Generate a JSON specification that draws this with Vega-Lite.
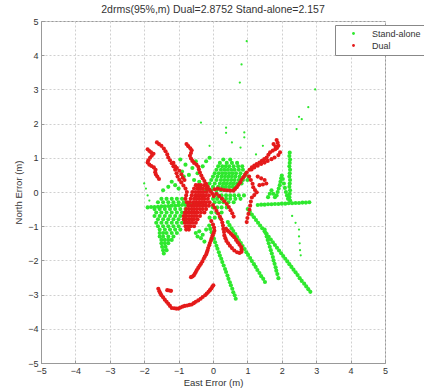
{
"$schema":"https://vega.github.io/schema/vega-lite/v6.json",
"width":344,"height":342,
"autosize":{"type":"none"},
"padding":{"left":41,"top":21,"right":39,"bottom":28},
"background":"white",
"config":{"view":{"stroke":"#999","strokeWidth":1},"font":"Liberation Sans"},
"title":{"text":"2drms(95%,m) Dual=2.8752 Stand-alone=2.157","fontSize":10.5,"fontWeight":"normal","color":"#333","offset":2,"anchor":"middle"},
"datasets":{
"sparse":[
{"x":0.98,"y":4.41,"s":"S"},{"x":0.83,"y":3.73,"s":"S"},{"x":0.78,"y":3.2,"s":"S"},{"x":2.97,"y":3.0,"s":"S"},{"x":2.77,"y":2.48,"s":"S"},{"x":2.58,"y":2.13,"s":"S"},{"x":2.43,"y":1.84,"s":"S"},{"x":2.5,"y":2.2,"s":"S"},{"x":0.38,"y":1.88,"s":"S"},{"x":0.38,"y":1.73,"s":"S"},{"x":0.91,"y":1.74,"s":"S"},{"x":0.91,"y":1.6,"s":"S"},{"x":-0.35,"y":2.03,"s":"S"},{"x":0.8,"y":1.3,"s":"S"},{"x":1.25,"y":1.1,"s":"S"},{"x":2.5,"y":-1.1,"s":"S"},{"x":2.5,"y":-1.3,"s":"S"},{"x":2.52,"y":-1.5,"s":"S"},{"x":2.53,"y":-1.7,"s":"S"},{"x":2.55,"y":-1.85,"s":"S"},{"x":-2.0,"y":0.25,"s":"S"},{"x":-1.95,"y":0.1,"s":"S"},{"x":-1.9,"y":-0.1,"s":"S"},{"x":-1.85,"y":-0.25,"s":"S"},{"x":1.45,"y":1.35,"s":"S"},{"x":0.55,"y":1.45,"s":"S"},{"x":-0.1,"y":1.35,"s":"S"},{"x":2.3,"y":-0.7,"s":"S"},{"x":2.4,"y":-0.9,"s":"S"}
],
"main":[
{"x":0.3,"y":0.95,"s":"S"},{"x":0.5,"y":0.95,"s":"S"},
{"x":0.2,"y":0.85,"s":"S"},{"x":0.4,"y":0.85,"s":"S"},{"x":0.55,"y":0.85,"s":"S"},{"x":0.7,"y":0.85,"s":"S"},
{"x":0.15,"y":0.75,"s":"S"},{"x":0.27,"y":0.75,"s":"S"},{"x":0.37,"y":0.75,"s":"S"},{"x":0.47,"y":0.75,"s":"S"},{"x":0.6,"y":0.75,"s":"S"},{"x":0.73,"y":0.75,"s":"S"},{"x":0.85,"y":0.75,"s":"S"},
{"x":0.1,"y":0.65,"s":"S"},{"x":0.23,"y":0.65,"s":"S"},{"x":0.33,"y":0.65,"s":"S"},{"x":0.43,"y":0.65,"s":"S"},{"x":0.53,"y":0.65,"s":"S"},{"x":0.63,"y":0.65,"s":"S"},{"x":0.75,"y":0.65,"s":"S"},{"x":0.87,"y":0.65,"s":"S"},
{"x":0.05,"y":0.55,"s":"S"},{"x":0.17,"y":0.55,"s":"S"},{"x":0.27,"y":0.55,"s":"S"},{"x":0.37,"y":0.55,"s":"S"},{"x":0.47,"y":0.55,"s":"S"},{"x":0.57,"y":0.55,"s":"S"},{"x":0.67,"y":0.55,"s":"S"},{"x":0.8,"y":0.55,"s":"S"},{"x":0.95,"y":0.55,"s":"S"},
{"x":0.0,"y":0.45,"s":"S"},{"x":0.13,"y":0.45,"s":"S"},{"x":0.25,"y":0.45,"s":"S"},{"x":0.35,"y":0.45,"s":"S"},{"x":0.45,"y":0.45,"s":"S"},{"x":0.55,"y":0.45,"s":"S"},{"x":0.65,"y":0.45,"s":"S"},{"x":0.77,"y":0.45,"s":"S"},{"x":0.9,"y":0.45,"s":"S"},{"x":1.03,"y":0.45,"s":"S"},
{"x":-0.05,"y":0.35,"s":"S"},{"x":0.1,"y":0.35,"s":"S"},{"x":0.23,"y":0.35,"s":"S"},{"x":0.33,"y":0.35,"s":"S"},{"x":0.43,"y":0.35,"s":"S"},{"x":0.53,"y":0.35,"s":"S"},{"x":0.63,"y":0.35,"s":"S"},{"x":0.75,"y":0.35,"s":"S"},{"x":0.87,"y":0.35,"s":"S"},{"x":1.0,"y":0.35,"s":"S"},
{"x":-0.1,"y":0.25,"s":"S"},{"x":0.05,"y":0.25,"s":"S"},{"x":0.2,"y":0.25,"s":"S"},{"x":0.3,"y":0.25,"s":"S"},{"x":0.4,"y":0.25,"s":"S"},{"x":0.5,"y":0.25,"s":"S"},{"x":0.6,"y":0.25,"s":"S"},{"x":0.7,"y":0.25,"s":"S"},{"x":0.83,"y":0.25,"s":"S"},
{"x":-0.15,"y":0.15,"s":"S"},{"x":0.0,"y":0.15,"s":"S"},{"x":0.15,"y":0.15,"s":"S"},{"x":0.27,"y":0.15,"s":"S"},{"x":0.37,"y":0.15,"s":"S"},{"x":0.47,"y":0.15,"s":"S"},{"x":0.57,"y":0.15,"s":"S"},{"x":0.67,"y":0.15,"s":"S"},
{"x":-0.2,"y":0.05,"s":"S"},{"x":-0.05,"y":0.05,"s":"S"},{"x":0.1,"y":0.05,"s":"S"},{"x":0.23,"y":0.05,"s":"S"},{"x":0.35,"y":0.05,"s":"S"},{"x":0.47,"y":0.05,"s":"S"},{"x":0.6,"y":0.05,"s":"S"},
{"x":-0.9,"y":0.6,"s":"S"},{"x":-0.85,"y":0.45,"s":"S"},{"x":-0.7,"y":0.5,"s":"S"},{"x":-0.8,"y":0.8,"s":"S"},{"x":-0.5,"y":0.9,"s":"S"},{"x":-0.45,"y":0.55,"s":"S"},{"x":-0.3,"y":0.75,"s":"S"},{"x":-0.2,"y":0.9,"s":"S"},{"x":-0.1,"y":1.0,"s":"S"},{"x":-1.2,"y":0.3,"s":"S"},{"x":-1.1,"y":0.2,"s":"S"},{"x":-1.0,"y":0.1,"s":"S"},{"x":-1.3,"y":0.15,"s":"S"},{"x":-1.45,"y":0.05,"s":"S"},{"x":-0.95,"y":0.95,"s":"S"},{"x":-0.6,"y":0.7,"s":"S"},{"x":-0.55,"y":0.35,"s":"S"},{"x":-0.4,"y":0.3,"s":"S"},
{"x":0.05,"y":-0.1,"s":"S"},{"x":0.15,"y":-0.1,"s":"S"},{"x":0.25,"y":-0.1,"s":"S"},{"x":0.38,"y":-0.1,"s":"S"},{"x":0.5,"y":-0.1,"s":"S"},{"x":0.62,"y":-0.1,"s":"S"},{"x":0.75,"y":-0.1,"s":"S"},{"x":0.9,"y":-0.1,"s":"S"},
{"x":0.0,"y":-0.2,"s":"S"},{"x":0.12,"y":-0.2,"s":"S"},{"x":0.25,"y":-0.2,"s":"S"},{"x":0.38,"y":-0.2,"s":"S"},{"x":0.5,"y":-0.2,"s":"S"},{"x":0.65,"y":-0.2,"s":"S"},{"x":0.8,"y":-0.2,"s":"S"},
{"x":0.05,"y":-0.3,"s":"S"},{"x":0.18,"y":-0.3,"s":"S"},{"x":0.3,"y":-0.3,"s":"S"},{"x":0.45,"y":-0.3,"s":"S"},{"x":0.6,"y":-0.3,"s":"S"},
{"x":0.0,"y":-0.45,"s":"S"},{"x":0.12,"y":-0.45,"s":"S"},{"x":0.25,"y":-0.45,"s":"S"},{"x":0.4,"y":-0.45,"s":"S"},
{"x":-0.05,"y":-0.6,"s":"S"},{"x":0.1,"y":-0.6,"s":"S"},{"x":0.25,"y":-0.6,"s":"S"},
{"x":-0.1,"y":-0.75,"s":"S"},{"x":0.05,"y":-0.75,"s":"S"},{"x":0.2,"y":-0.75,"s":"S"},
{"x":-0.5,"y":-1.2,"s":"S"},{"x":-0.4,"y":-1.15,"s":"S"},{"x":-0.3,"y":-1.25,"s":"S"},{"x":-0.2,"y":-1.1,"s":"S"},{"x":-0.35,"y":-1.35,"s":"S"},{"x":-0.25,"y":-1.45,"s":"S"},{"x":-0.45,"y":-1.3,"s":"S"},
{"x":2.23,"y":1.15,"s":"S"},{"x":2.22,"y":1.05,"s":"S"},{"x":2.24,"y":0.95,"s":"S"},{"x":2.23,"y":0.85,"s":"S"},{"x":2.22,"y":0.75,"s":"S"},{"x":2.24,"y":0.65,"s":"S"},{"x":2.23,"y":0.55,"s":"S"},{"x":2.22,"y":0.45,"s":"S"},{"x":2.24,"y":0.35,"s":"S"},{"x":2.23,"y":0.25,"s":"S"},{"x":2.22,"y":0.15,"s":"S"},{"x":2.24,"y":0.05,"s":"S"},{"x":2.23,"y":-0.05,"s":"S"},{"x":2.22,"y":-0.15,"s":"S"},{"x":2.24,"y":-0.25,"s":"S"},
{"x":1.85,"y":-0.1,"s":"S"},{"x":1.88,"y":0.0,"s":"S"},{"x":1.91,"y":0.1,"s":"S"},{"x":1.94,"y":0.2,"s":"S"},{"x":1.96,"y":0.3,"s":"S"},{"x":1.98,"y":0.4,"s":"S"},{"x":2.0,"y":0.48,"s":"S"},{"x":2.03,"y":0.38,"s":"S"},{"x":2.06,"y":0.25,"s":"S"},{"x":2.09,"y":0.12,"s":"S"},{"x":2.12,"y":0.0,"s":"S"},{"x":2.15,"y":-0.1,"s":"S"},{"x":2.18,"y":-0.2,"s":"S"},
{"x":1.6,"y":-0.15,"s":"S"},{"x":1.65,"y":-0.05,"s":"S"},{"x":1.7,"y":0.05,"s":"S"},{"x":1.75,"y":-0.05,"s":"S"},{"x":1.8,"y":-0.15,"s":"S"},
{"x":1.3,"y":-0.38,"s":"S"},{"x":1.4,"y":-0.37,"s":"S"},{"x":1.5,"y":-0.37,"s":"S"},{"x":1.6,"y":-0.36,"s":"S"},{"x":1.7,"y":-0.36,"s":"S"},{"x":1.8,"y":-0.35,"s":"S"},{"x":1.9,"y":-0.35,"s":"S"},{"x":2.0,"y":-0.34,"s":"S"},{"x":2.1,"y":-0.34,"s":"S"},{"x":2.2,"y":-0.33,"s":"S"},{"x":2.3,"y":-0.33,"s":"S"},{"x":2.4,"y":-0.32,"s":"S"},{"x":2.5,"y":-0.32,"s":"S"},{"x":2.6,"y":-0.31,"s":"S"},{"x":2.7,"y":-0.31,"s":"S"},{"x":2.8,"y":-0.3,"s":"S"},
{"x":-0.11,"y":-0.98,"s":"S"},{"x":-0.08,"y":-1.08,"s":"S"},{"x":-0.04,"y":-1.18,"s":"S"},{"x":-0.01,"y":-1.27,"s":"S"},{"x":0.03,"y":-1.37,"s":"S"},{"x":0.06,"y":-1.47,"s":"S"},{"x":0.1,"y":-1.57,"s":"S"},{"x":0.13,"y":-1.66,"s":"S"},{"x":0.17,"y":-1.76,"s":"S"},{"x":0.2,"y":-1.86,"s":"S"},{"x":0.24,"y":-1.95,"s":"S"},{"x":0.27,"y":-2.05,"s":"S"},{"x":0.31,"y":-2.15,"s":"S"},{"x":0.35,"y":-2.25,"s":"S"},{"x":0.38,"y":-2.34,"s":"S"},{"x":0.42,"y":-2.44,"s":"S"},{"x":0.45,"y":-2.54,"s":"S"},{"x":0.49,"y":-2.64,"s":"S"},{"x":0.52,"y":-2.73,"s":"S"},{"x":0.56,"y":-2.83,"s":"S"},{"x":0.59,"y":-2.93,"s":"S"},{"x":0.63,"y":-3.02,"s":"S"},{"x":0.66,"y":-3.12,"s":"S"},
{"x":0.43,"y":-0.88,"s":"S"},{"x":0.48,"y":-0.97,"s":"S"},{"x":0.54,"y":-1.06,"s":"S"},{"x":0.59,"y":-1.14,"s":"S"},{"x":0.65,"y":-1.23,"s":"S"},{"x":0.7,"y":-1.32,"s":"S"},{"x":0.75,"y":-1.41,"s":"S"},{"x":0.81,"y":-1.49,"s":"S"},{"x":0.86,"y":-1.58,"s":"S"},{"x":0.92,"y":-1.67,"s":"S"},{"x":0.97,"y":-1.76,"s":"S"},{"x":1.02,"y":-1.84,"s":"S"},{"x":1.08,"y":-1.93,"s":"S"},{"x":1.13,"y":-2.02,"s":"S"},{"x":1.19,"y":-2.11,"s":"S"},{"x":1.24,"y":-2.19,"s":"S"},{"x":1.29,"y":-2.28,"s":"S"},{"x":1.35,"y":-2.37,"s":"S"},{"x":1.4,"y":-2.46,"s":"S"},{"x":1.46,"y":-2.54,"s":"S"},{"x":1.51,"y":-2.63,"s":"S"},
{"x":1.01,"y":-0.5,"s":"S"},{"x":1.07,"y":-0.58,"s":"S"},{"x":1.13,"y":-0.66,"s":"S"},{"x":1.19,"y":-0.74,"s":"S"},{"x":1.25,"y":-0.82,"s":"S"},{"x":1.31,"y":-0.9,"s":"S"},{"x":1.37,"y":-0.98,"s":"S"},{"x":1.43,"y":-1.06,"s":"S"},{"x":1.5,"y":-1.15,"s":"S"},{"x":1.56,"y":-1.23,"s":"S"},{"x":1.62,"y":-1.31,"s":"S"},{"x":1.68,"y":-1.39,"s":"S"},{"x":1.74,"y":-1.47,"s":"S"},{"x":1.8,"y":-1.55,"s":"S"},{"x":1.86,"y":-1.63,"s":"S"},{"x":1.92,"y":-1.71,"s":"S"},{"x":1.98,"y":-1.79,"s":"S"},{"x":2.04,"y":-1.87,"s":"S"},{"x":2.1,"y":-1.95,"s":"S"},{"x":2.16,"y":-2.03,"s":"S"},{"x":2.22,"y":-2.11,"s":"S"},{"x":2.28,"y":-2.19,"s":"S"},{"x":2.34,"y":-2.27,"s":"S"},{"x":2.4,"y":-2.35,"s":"S"},{"x":2.46,"y":-2.43,"s":"S"},{"x":2.52,"y":-2.52,"s":"S"},{"x":2.58,"y":-2.6,"s":"S"},{"x":2.65,"y":-2.68,"s":"S"},{"x":2.71,"y":-2.76,"s":"S"},{"x":2.77,"y":-2.84,"s":"S"},{"x":2.83,"y":-2.92,"s":"S"},
{"x":1.5,"y":-1.1,"s":"S"},{"x":1.53,"y":-1.2,"s":"S"},{"x":1.56,"y":-1.3,"s":"S"},{"x":1.59,"y":-1.4,"s":"S"},{"x":1.62,"y":-1.5,"s":"S"},{"x":1.65,"y":-1.6,"s":"S"},{"x":1.68,"y":-1.7,"s":"S"},{"x":1.71,"y":-1.8,"s":"S"},{"x":1.74,"y":-1.9,"s":"S"},{"x":1.76,"y":-2.0,"s":"S"},{"x":1.79,"y":-2.1,"s":"S"},{"x":1.82,"y":-2.2,"s":"S"},{"x":1.84,"y":-2.3,"s":"S"},{"x":1.87,"y":-2.4,"s":"S"},{"x":1.9,"y":-2.52,"s":"S"},
{"x":-1.9,"y":-0.45,"s":"S"},{"x":-1.8,"y":-0.44,"s":"S"},{"x":-1.7,"y":-0.44,"s":"S"},{"x":-1.6,"y":-0.43,"s":"S"},{"x":-1.5,"y":-0.42,"s":"S"},{"x":-1.4,"y":-0.42,"s":"S"},{"x":-1.3,"y":-0.41,"s":"S"},{"x":-1.2,"y":-0.4,"s":"S"},{"x":-1.1,"y":-0.4,"s":"S"},{"x":-1.0,"y":-0.39,"s":"S"},{"x":-0.9,"y":-0.38,"s":"S"},{"x":-0.8,"y":-0.38,"s":"S"},{"x":-0.7,"y":-0.37,"s":"S"},{"x":-0.6,"y":-0.36,"s":"S"},{"x":-0.5,"y":-0.36,"s":"S"},{"x":-0.4,"y":-0.35,"s":"S"},
{"x":-1.5,"y":-0.2,"s":"S"},{"x":-1.35,"y":-0.2,"s":"S"},{"x":-1.2,"y":-0.2,"s":"S"},{"x":-1.05,"y":-0.2,"s":"S"},{"x":-0.9,"y":-0.2,"s":"S"},
{"x":-1.6,"y":-0.3,"s":"S"},{"x":-1.45,"y":-0.3,"s":"S"},{"x":-1.3,"y":-0.3,"s":"S"},{"x":-1.15,"y":-0.3,"s":"S"},{"x":-1.0,"y":-0.3,"s":"S"},{"x":-0.85,"y":-0.3,"s":"S"},
{"x":-1.7,"y":-0.5,"s":"S"},{"x":-1.55,"y":-0.5,"s":"S"},{"x":-1.4,"y":-0.5,"s":"S"},{"x":-1.25,"y":-0.5,"s":"S"},{"x":-1.1,"y":-0.5,"s":"S"},{"x":-0.95,"y":-0.5,"s":"S"},{"x":-0.8,"y":-0.5,"s":"S"},
{"x":-1.65,"y":-0.6,"s":"S"},{"x":-1.5,"y":-0.6,"s":"S"},{"x":-1.35,"y":-0.6,"s":"S"},{"x":-1.2,"y":-0.6,"s":"S"},{"x":-1.05,"y":-0.6,"s":"S"},{"x":-0.9,"y":-0.6,"s":"S"},
{"x":-1.7,"y":-0.7,"s":"S"},{"x":-1.55,"y":-0.7,"s":"S"},{"x":-1.4,"y":-0.7,"s":"S"},{"x":-1.25,"y":-0.7,"s":"S"},{"x":-1.1,"y":-0.7,"s":"S"},{"x":-0.95,"y":-0.7,"s":"S"},{"x":-0.8,"y":-0.7,"s":"S"},
{"x":-1.6,"y":-0.8,"s":"S"},{"x":-1.45,"y":-0.8,"s":"S"},{"x":-1.3,"y":-0.8,"s":"S"},{"x":-1.15,"y":-0.8,"s":"S"},{"x":-1.0,"y":-0.8,"s":"S"},{"x":-0.85,"y":-0.8,"s":"S"},
{"x":-1.65,"y":-0.9,"s":"S"},{"x":-1.5,"y":-0.9,"s":"S"},{"x":-1.35,"y":-0.9,"s":"S"},{"x":-1.2,"y":-0.9,"s":"S"},{"x":-1.05,"y":-0.9,"s":"S"},{"x":-0.9,"y":-0.9,"s":"S"},
{"x":-1.6,"y":-1.0,"s":"S"},{"x":-1.45,"y":-1.0,"s":"S"},{"x":-1.3,"y":-1.0,"s":"S"},{"x":-1.15,"y":-1.0,"s":"S"},{"x":-1.0,"y":-1.0,"s":"S"},
{"x":-1.55,"y":-1.1,"s":"S"},{"x":-1.4,"y":-1.1,"s":"S"},{"x":-1.25,"y":-1.1,"s":"S"},{"x":-1.1,"y":-1.1,"s":"S"},{"x":-0.95,"y":-1.1,"s":"S"},
{"x":-1.55,"y":-1.2,"s":"S"},{"x":-1.45,"y":-1.2,"s":"S"},{"x":-1.35,"y":-1.2,"s":"S"},{"x":-1.2,"y":-1.2,"s":"S"},{"x":-1.05,"y":-1.2,"s":"S"},
{"x":-1.55,"y":-1.3,"s":"S"},{"x":-1.45,"y":-1.3,"s":"S"},{"x":-1.3,"y":-1.3,"s":"S"},{"x":-1.15,"y":-1.3,"s":"S"},
{"x":-1.5,"y":-1.4,"s":"S"},{"x":-1.4,"y":-1.4,"s":"S"},{"x":-1.3,"y":-1.4,"s":"S"},{"x":-1.2,"y":-1.4,"s":"S"},
{"x":-1.5,"y":-1.5,"s":"S"},{"x":-1.4,"y":-1.5,"s":"S"},{"x":-1.3,"y":-1.5,"s":"S"},
{"x":-1.48,"y":-1.6,"s":"S"},{"x":-1.38,"y":-1.6,"s":"S"},{"x":-1.45,"y":-1.7,"s":"S"},{"x":-1.35,"y":-1.7,"s":"S"},{"x":-1.43,"y":-1.8,"s":"S"},
{"x":-1.9,"y":1.25,"s":"D"},{"x":-1.85,"y":1.2,"s":"D"},{"x":-1.8,"y":1.16,"s":"D"},{"x":-1.73,"y":1.12,"s":"D"},{"x":-1.78,"y":1.06,"s":"D"},{"x":-1.83,"y":1.0,"s":"D"},{"x":-1.88,"y":0.93,"s":"D"},{"x":-1.9,"y":0.86,"s":"D"},{"x":-1.85,"y":0.8,"s":"D"},{"x":-1.79,"y":0.76,"s":"D"},{"x":-1.72,"y":0.72,"s":"D"},{"x":-1.67,"y":0.65,"s":"D"},{"x":-1.68,"y":0.58,"s":"D"},{"x":-1.66,"y":0.51,"s":"D"},{"x":-1.62,"y":0.45,"s":"D"},{"x":-1.57,"y":0.38,"s":"D"},
{"x":-1.63,"y":1.45,"s":"D"},{"x":-1.57,"y":1.4,"s":"D"},{"x":-1.5,"y":1.35,"s":"D"},{"x":-1.43,"y":1.27,"s":"D"},{"x":-1.38,"y":1.19,"s":"D"},{"x":-1.33,"y":1.1,"s":"D"},{"x":-1.3,"y":1.01,"s":"D"},{"x":-1.25,"y":0.93,"s":"D"},{"x":-1.2,"y":0.84,"s":"D"},{"x":-1.15,"y":0.75,"s":"D"},{"x":-1.1,"y":0.65,"s":"D"},{"x":-1.06,"y":0.55,"s":"D"},{"x":-1.03,"y":0.45,"s":"D"},{"x":-0.98,"y":0.36,"s":"D"},{"x":-0.92,"y":0.28,"s":"D"},{"x":-0.86,"y":0.19,"s":"D"},{"x":-0.8,"y":0.1,"s":"D"},{"x":-0.76,"y":0.0,"s":"D"},{"x":-0.78,"y":-0.1,"s":"D"},{"x":-0.8,"y":-0.2,"s":"D"},{"x":-0.76,"y":-0.3,"s":"D"},
{"x":-1.15,"y":0.85,"s":"D"},{"x":-1.1,"y":0.75,"s":"D"},{"x":-1.05,"y":0.7,"s":"D"},{"x":-0.98,"y":0.62,"s":"D"},{"x":-0.92,"y":0.52,"s":"D"},{"x":-0.88,"y":0.42,"s":"D"},{"x":-0.83,"y":0.35,"s":"D"},
{"x":-0.77,"y":1.4,"s":"D"},{"x":-0.72,"y":1.34,"s":"D"},{"x":-0.66,"y":1.28,"s":"D"},{"x":-0.62,"y":1.22,"s":"D"},{"x":-0.64,"y":1.14,"s":"D"},{"x":-0.67,"y":1.06,"s":"D"},{"x":-0.64,"y":0.98,"s":"D"},{"x":-0.6,"y":0.91,"s":"D"},{"x":-0.55,"y":0.85,"s":"D"},{"x":-0.48,"y":0.8,"s":"D"},{"x":-0.43,"y":0.74,"s":"D"},{"x":-0.41,"y":0.66,"s":"D"},{"x":-0.38,"y":0.57,"s":"D"},{"x":-0.34,"y":0.48,"s":"D"},{"x":-0.3,"y":0.4,"s":"D"},{"x":-0.25,"y":0.32,"s":"D"},{"x":-0.2,"y":0.24,"s":"D"},{"x":-0.16,"y":0.16,"s":"D"},{"x":-0.11,"y":0.08,"s":"D"},{"x":-0.07,"y":0.02,"s":"D"},{"x":-0.02,"y":-0.05,"s":"D"},{"x":0.02,"y":-0.12,"s":"D"},
{"x":-0.5,"y":0.2,"s":"D"},{"x":-0.42,"y":0.2,"s":"D"},{"x":-0.35,"y":0.2,"s":"D"},{"x":-0.25,"y":0.2,"s":"D"},
{"x":-0.55,"y":0.1,"s":"D"},{"x":-0.45,"y":0.1,"s":"D"},{"x":-0.38,"y":0.1,"s":"D"},{"x":-0.3,"y":0.1,"s":"D"},{"x":-0.2,"y":0.1,"s":"D"},
{"x":-0.6,"y":0.0,"s":"D"},{"x":-0.5,"y":0.0,"s":"D"},{"x":-0.42,"y":0.0,"s":"D"},{"x":-0.35,"y":0.0,"s":"D"},{"x":-0.28,"y":0.0,"s":"D"},{"x":-0.18,"y":0.0,"s":"D"},
{"x":-0.62,"y":-0.1,"s":"D"},{"x":-0.52,"y":-0.1,"s":"D"},{"x":-0.45,"y":-0.1,"s":"D"},{"x":-0.38,"y":-0.1,"s":"D"},{"x":-0.3,"y":-0.1,"s":"D"},{"x":-0.22,"y":-0.1,"s":"D"},{"x":-0.12,"y":-0.1,"s":"D"},
{"x":-0.65,"y":-0.2,"s":"D"},{"x":-0.55,"y":-0.2,"s":"D"},{"x":-0.48,"y":-0.2,"s":"D"},{"x":-0.4,"y":-0.2,"s":"D"},{"x":-0.32,"y":-0.2,"s":"D"},{"x":-0.25,"y":-0.2,"s":"D"},{"x":-0.15,"y":-0.2,"s":"D"},
{"x":-0.68,"y":-0.3,"s":"D"},{"x":-0.58,"y":-0.3,"s":"D"},{"x":-0.5,"y":-0.3,"s":"D"},{"x":-0.42,"y":-0.3,"s":"D"},{"x":-0.35,"y":-0.3,"s":"D"},{"x":-0.28,"y":-0.3,"s":"D"},{"x":-0.2,"y":-0.3,"s":"D"},{"x":-0.1,"y":-0.3,"s":"D"},
{"x":-0.72,"y":-0.4,"s":"D"},{"x":-0.62,"y":-0.4,"s":"D"},{"x":-0.55,"y":-0.4,"s":"D"},{"x":-0.47,"y":-0.4,"s":"D"},{"x":-0.4,"y":-0.4,"s":"D"},{"x":-0.3,"y":-0.4,"s":"D"},{"x":-0.22,"y":-0.4,"s":"D"},{"x":-0.12,"y":-0.4,"s":"D"},
{"x":-0.78,"y":-0.5,"s":"D"},{"x":-0.7,"y":-0.5,"s":"D"},{"x":-0.62,"y":-0.5,"s":"D"},{"x":-0.55,"y":-0.5,"s":"D"},{"x":-0.47,"y":-0.5,"s":"D"},{"x":-0.38,"y":-0.5,"s":"D"},{"x":-0.3,"y":-0.5,"s":"D"},{"x":-0.2,"y":-0.5,"s":"D"},
{"x":-0.82,"y":-0.6,"s":"D"},{"x":-0.75,"y":-0.6,"s":"D"},{"x":-0.68,"y":-0.6,"s":"D"},{"x":-0.6,"y":-0.6,"s":"D"},{"x":-0.52,"y":-0.6,"s":"D"},{"x":-0.45,"y":-0.6,"s":"D"},{"x":-0.35,"y":-0.6,"s":"D"},{"x":-0.25,"y":-0.6,"s":"D"},
{"x":-0.85,"y":-0.7,"s":"D"},{"x":-0.78,"y":-0.7,"s":"D"},{"x":-0.7,"y":-0.7,"s":"D"},{"x":-0.62,"y":-0.7,"s":"D"},{"x":-0.55,"y":-0.7,"s":"D"},{"x":-0.48,"y":-0.7,"s":"D"},{"x":-0.38,"y":-0.7,"s":"D"},
{"x":-0.85,"y":-0.8,"s":"D"},{"x":-0.78,"y":-0.8,"s":"D"},{"x":-0.7,"y":-0.8,"s":"D"},{"x":-0.62,"y":-0.8,"s":"D"},{"x":-0.55,"y":-0.8,"s":"D"},{"x":-0.45,"y":-0.8,"s":"D"},
{"x":-0.82,"y":-0.9,"s":"D"},{"x":-0.75,"y":-0.9,"s":"D"},{"x":-0.68,"y":-0.9,"s":"D"},{"x":-0.6,"y":-0.9,"s":"D"},{"x":-0.5,"y":-0.9,"s":"D"},
{"x":-0.8,"y":-1.0,"s":"D"},{"x":-0.72,"y":-1.0,"s":"D"},{"x":-0.65,"y":-1.0,"s":"D"},{"x":-0.55,"y":-1.0,"s":"D"},
{"x":-0.78,"y":-1.1,"s":"D"},{"x":-0.7,"y":-1.1,"s":"D"},
{"x":0.0,"y":-0.38,"s":"D"},{"x":0.05,"y":-0.46,"s":"D"},{"x":0.1,"y":-0.55,"s":"D"},{"x":0.15,"y":-0.63,"s":"D"},{"x":0.2,"y":-0.72,"s":"D"},{"x":0.24,"y":-0.8,"s":"D"},{"x":0.27,"y":-0.89,"s":"D"},{"x":0.29,"y":-0.98,"s":"D"},{"x":0.3,"y":-1.08,"s":"D"},{"x":0.32,"y":-1.17,"s":"D"},{"x":0.33,"y":-1.27,"s":"D"},{"x":0.36,"y":-1.35,"s":"D"},{"x":0.39,"y":-1.43,"s":"D"},{"x":0.44,"y":-1.5,"s":"D"},{"x":0.49,"y":-1.57,"s":"D"},{"x":0.55,"y":-1.64,"s":"D"},{"x":0.62,"y":-1.71,"s":"D"},{"x":0.7,"y":-1.76,"s":"D"},{"x":0.77,"y":-1.78,"s":"D"},{"x":0.83,"y":-1.75,"s":"D"},{"x":0.83,"y":-1.68,"s":"D"},{"x":0.82,"y":-1.61,"s":"D"},{"x":0.77,"y":-1.54,"s":"D"},{"x":0.72,"y":-1.47,"s":"D"},{"x":0.67,"y":-1.4,"s":"D"},{"x":0.62,"y":-1.32,"s":"D"},{"x":0.57,"y":-1.27,"s":"D"},{"x":0.52,"y":-1.22,"s":"D"},{"x":0.47,"y":-1.17,"s":"D"},{"x":0.43,"y":-1.13,"s":"D"},{"x":0.38,"y":-1.08,"s":"D"},
{"x":-0.05,"y":-0.85,"s":"D"},{"x":0.0,"y":-0.95,"s":"D"},{"x":0.03,"y":-1.04,"s":"D"},
{"x":0.04,"y":-1.13,"s":"D"},{"x":0.02,"y":-1.2,"s":"D"},{"x":-0.01,"y":-1.27,"s":"D"},{"x":-0.04,"y":-1.35,"s":"D"},{"x":-0.06,"y":-1.42,"s":"D"},{"x":-0.09,"y":-1.49,"s":"D"},{"x":-0.11,"y":-1.56,"s":"D"},{"x":-0.14,"y":-1.64,"s":"D"},{"x":-0.16,"y":-1.71,"s":"D"},{"x":-0.18,"y":-1.77,"s":"D"},{"x":-0.2,"y":-1.83,"s":"D"},{"x":-0.24,"y":-1.89,"s":"D"},{"x":-0.27,"y":-1.95,"s":"D"},{"x":-0.31,"y":-2.03,"s":"D"},{"x":-0.35,"y":-2.1,"s":"D"},{"x":-0.39,"y":-2.16,"s":"D"},{"x":-0.43,"y":-2.22,"s":"D"},{"x":-0.47,"y":-2.28,"s":"D"},{"x":-0.5,"y":-2.34,"s":"D"},{"x":-0.53,"y":-2.39,"s":"D"},{"x":-0.56,"y":-2.44,"s":"D"},{"x":-0.6,"y":-2.47,"s":"D"},{"x":-0.64,"y":-2.49,"s":"D"},
{"x":-1.59,"y":-2.83,"s":"D"},{"x":-1.56,"y":-2.9,"s":"D"},{"x":-1.53,"y":-2.96,"s":"D"},{"x":-1.5,"y":-3.02,"s":"D"},{"x":-1.45,"y":-3.08,"s":"D"},{"x":-1.4,"y":-3.15,"s":"D"},{"x":-1.35,"y":-3.21,"s":"D"},{"x":-1.3,"y":-3.27,"s":"D"},{"x":-1.25,"y":-3.33,"s":"D"},{"x":-1.2,"y":-3.39,"s":"D"},{"x":-1.13,"y":-3.4,"s":"D"},{"x":-1.07,"y":-3.41,"s":"D"},{"x":-1.01,"y":-3.41,"s":"D"},{"x":-0.95,"y":-3.38,"s":"D"},{"x":-0.88,"y":-3.35,"s":"D"},{"x":-0.82,"y":-3.33,"s":"D"},{"x":-0.75,"y":-3.32,"s":"D"},{"x":-0.68,"y":-3.3,"s":"D"},{"x":-0.62,"y":-3.29,"s":"D"},{"x":-0.56,"y":-3.25,"s":"D"},{"x":-0.5,"y":-3.21,"s":"D"},{"x":-0.43,"y":-3.17,"s":"D"},{"x":-0.36,"y":-3.12,"s":"D"},{"x":-0.3,"y":-3.07,"s":"D"},{"x":-0.23,"y":-3.02,"s":"D"},{"x":-0.18,"y":-2.97,"s":"D"},{"x":-0.13,"y":-2.92,"s":"D"},{"x":-0.09,"y":-2.87,"s":"D"},{"x":-0.05,"y":-2.82,"s":"D"},{"x":-0.02,"y":-2.77,"s":"D"},{"x":0.01,"y":-2.73,"s":"D"},
{"x":-1.33,"y":-2.87,"s":"D"},{"x":-1.27,"y":-2.88,"s":"D"},{"x":-1.22,"y":-2.89,"s":"D"},
{"x":1.85,"y":1.52,"s":"D"},{"x":1.88,"y":1.44,"s":"D"},{"x":1.9,"y":1.35,"s":"D"},{"x":1.86,"y":1.29,"s":"D"},{"x":1.81,"y":1.25,"s":"D"},{"x":1.74,"y":1.21,"s":"D"},{"x":1.66,"y":1.16,"s":"D"},{"x":1.61,"y":1.09,"s":"D"},{"x":1.56,"y":1.01,"s":"D"},{"x":1.49,"y":0.96,"s":"D"},{"x":1.42,"y":0.91,"s":"D"},{"x":1.35,"y":0.86,"s":"D"},{"x":1.27,"y":0.82,"s":"D"},{"x":1.2,"y":0.77,"s":"D"},{"x":1.13,"y":0.72,"s":"D"},{"x":1.06,"y":0.65,"s":"D"},{"x":0.98,"y":0.57,"s":"D"},{"x":0.93,"y":0.5,"s":"D"},{"x":0.88,"y":0.43,"s":"D"},{"x":0.83,"y":0.36,"s":"D"},{"x":0.79,"y":0.28,"s":"D"},{"x":0.74,"y":0.21,"s":"D"},{"x":0.69,"y":0.14,"s":"D"},{"x":0.64,"y":0.09,"s":"D"},{"x":0.59,"y":0.04,"s":"D"},
{"x":1.76,"y":1.4,"s":"D"},{"x":1.82,"y":1.33,"s":"D"},{"x":1.95,"y":1.16,"s":"D"},{"x":1.9,"y":1.08,"s":"D"},{"x":1.79,"y":1.01,"s":"D"},{"x":1.7,"y":0.96,"s":"D"},{"x":1.59,"y":0.91,"s":"D"},{"x":1.5,"y":0.86,"s":"D"},{"x":1.4,"y":0.82,"s":"D"},{"x":1.3,"y":0.77,"s":"D"},{"x":1.2,"y":0.72,"s":"D"},{"x":1.12,"y":0.66,"s":"D"},
{"x":1.05,"y":0.45,"s":"D"},{"x":1.1,"y":0.35,"s":"D"},{"x":1.15,"y":0.24,"s":"D"},{"x":1.17,"y":0.14,"s":"D"},{"x":1.22,"y":0.06,"s":"D"},{"x":1.27,"y":-0.01,"s":"D"},{"x":1.2,"y":-0.09,"s":"D"},{"x":1.13,"y":-0.16,"s":"D"},{"x":1.1,"y":-0.28,"s":"D"},{"x":1.08,"y":-0.4,"s":"D"},{"x":1.06,"y":-0.52,"s":"D"},{"x":1.03,"y":-0.64,"s":"D"},{"x":1.0,"y":-0.76,"s":"D"},{"x":0.98,"y":-0.88,"s":"D"},
{"x":1.3,"y":0.45,"s":"D"},{"x":1.4,"y":0.4,"s":"D"},{"x":1.5,"y":0.35,"s":"D"},{"x":1.55,"y":0.25,"s":"D"},{"x":1.45,"y":0.22,"s":"D"},{"x":1.35,"y":0.2,"s":"D"},
{"x":0.05,"y":0.08,"s":"D"},{"x":0.14,"y":0.1,"s":"D"},{"x":0.23,"y":0.08,"s":"D"},{"x":0.32,"y":0.06,"s":"D"},{"x":0.41,"y":0.05,"s":"D"},{"x":0.5,"y":0.04,"s":"D"},
{"x":0.1,"y":-0.05,"s":"D"},{"x":0.18,"y":-0.12,"s":"D"},{"x":0.26,"y":-0.19,"s":"D"},{"x":0.33,"y":-0.27,"s":"D"},{"x":0.4,"y":-0.35,"s":"D"},{"x":0.46,"y":-0.44,"s":"D"},{"x":0.51,"y":-0.53,"s":"D"},{"x":0.56,"y":-0.62,"s":"D"},{"x":0.6,"y":-0.72,"s":"D"}
]},
"encoding":{
"x":{"field":"x","type":"quantitative","scale":{"domain":[-5,5],"nice":false,"zero":false},
 "axis":{"title":"East Error (m)","values":[-5,-4,-3,-2,-1,0,1,2,3,4,5],"grid":true,"gridColor":"#d0d0d0","gridDash":[2,2],"domainColor":"#999","tickColor":"#999","tickSize":-3,"labelFontSize":9,"labelColor":"#333","labelFlush":false,"labelOverlap":false,"labelPadding":6,"titleFontSize":9.5,"titleFontWeight":"normal","titleColor":"#333","titlePadding":2}},
"y":{"field":"y","type":"quantitative","scale":{"domain":[-5,5],"nice":false,"zero":false},
 "axis":{"title":"North Error (m)","values":[-5,-4,-3,-2,-1,0,1,2,3,4,5],"grid":true,"gridColor":"#d0d0d0","gridDash":[2,2],"domainColor":"#999","tickColor":"#999","tickSize":-3,"labelFontSize":9,"labelColor":"#333","labelFlush":false,"labelOverlap":false,"labelPadding":6,"titleFontSize":9.5,"titleFontWeight":"normal","titleColor":"#333","titlePadding":4}},
"color":{"field":"s","type":"nominal","scale":{"domain":["S","D"],"range":["#2ee82e","#e41a1a"]},
 "legend":{"orient":"none","legendX":294,"legendY":4,"title":null,"labelExpr":"datum.value == 'S' ? 'Stand-alone' : 'Dual'","labelFontSize":9,"labelColor":"#333","symbolType":"circle","symbolSize":8,"strokeColor":"#888","fillColor":"white","padding":4,"symbolOffset":10,"labelOffset":14,"rowPadding":2}}
},
"layer":[
{"data":{"name":"sparse"},"mark":{"type":"point","filled":true,"size":5,"opacity":1}},
{"data":{"name":"main"},"mark":{"type":"point","filled":true,"size":17,"opacity":1}}
]
}
